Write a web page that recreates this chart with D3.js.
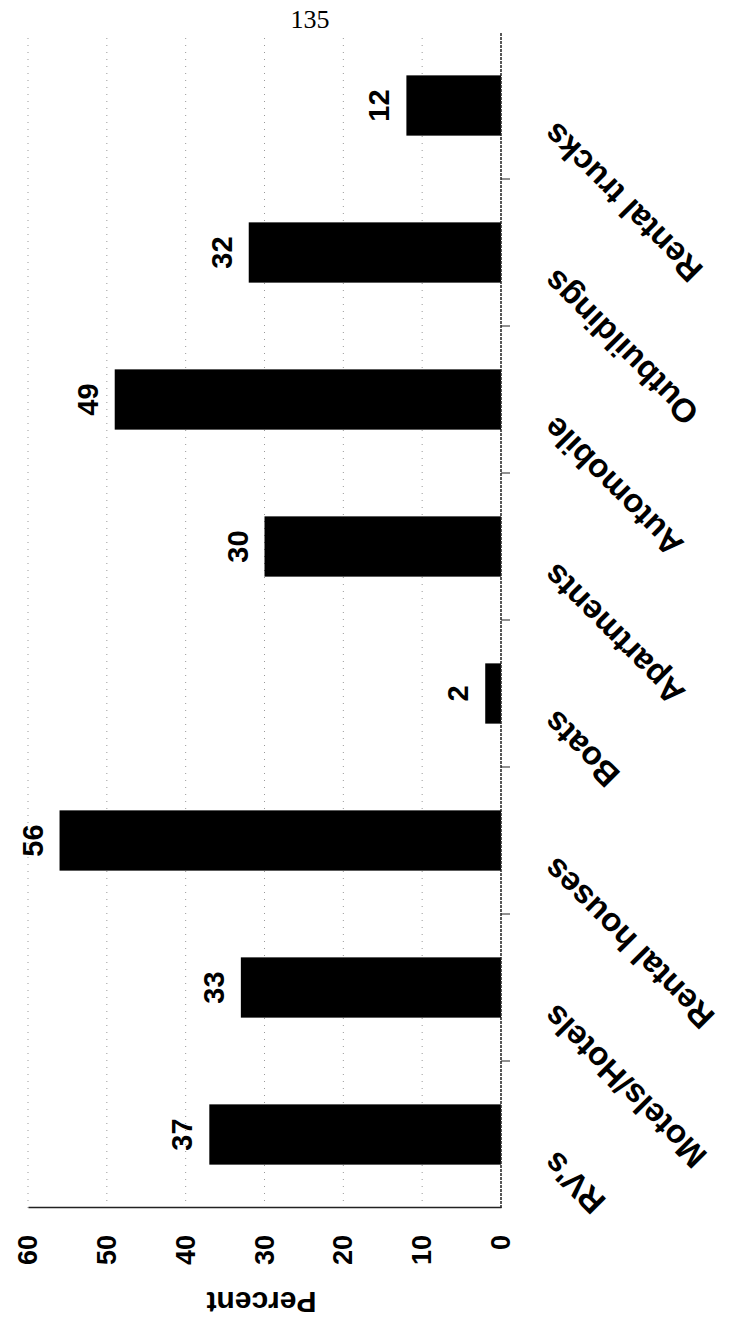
<!DOCTYPE html>
<html>
<head>
<meta charset="utf-8">
<script src="https://cdn.jsdelivr.net/npm/d3@7"></script>
<style>
  body { margin: 0; background: #fff; }
  svg text { font-family: "Liberation Sans", Arial, sans-serif; }
</style>
</head>
<body>
<svg id="chart"></svg>
<script>
// data
const categories = ["RV's", "Motels/Hotels", "Rental houses", "Boats", "Apartments", "Automobile", "Outbuildings", "Rental trucks"];
const percents = [37, 33, 56, 2, 30, 49, 32, 12];
const valueTicks = [0, 10, 20, 30, 40, 50, 60];
const gridTicks = [10, 20, 30, 40, 50, 60];

const pageW = 733, pageH = 1325;

let svg = d3.select("#chart")
    .attr("width", pageW)
    .attr("height", pageH);

// page number
svg.append("text")
    .attr("x", 310)
    .attr("y", 28)
    .attr("text-anchor", "middle")
    .style("font-family", "'Liberation Serif', 'DejaVu Serif', serif")
    .style("font-size", "26px")
    .text("135");

// chart is drawn upright then turned a quarter turn, like the landscape page
const width = 1176,
      height = 473;

const g = svg.append("g")
    .attr("transform", "translate(28,1208) rotate(-90)");

var x = d3.scaleBand()
    .domain(categories)
    .range([0, width])
    .paddingInner(0.59)
    .paddingOuter(0.295);

var y = d3.scaleLinear()
    .domain([0, 60])
    .range([height, 0]);

// faint dotted grid
g.selectAll(".grid")
    .data(gridTicks)
    .enter()
    .append("line")
    .attr("class", "grid")
    .attr("x1", 0)
    .attr("x2", width)
    .attr("y1", d => y(d))
    .attr("y2", d => y(d))
    .attr("stroke", "#999")
    .attr("stroke-width", 1)
    .attr("stroke-dasharray", "1,6");

// bars
g.selectAll(".bar")
    .data(percents)
    .enter()
    .append("rect")
    .attr("class", "bar")
    .attr("x", (d, i) => x(categories[i]))
    .attr("width", x.bandwidth())
    .attr("y", d => y(d))
    .attr("height", d => height - y(d))
    .attr("fill", "#000");

// value labels
g.selectAll(".val")
    .data(percents)
    .enter()
    .append("text")
    .attr("class", "val")
    .attr("x", (d, i) => x(categories[i]) + x.bandwidth() / 2)
    .attr("y", d => y(d) - 17)
    .attr("text-anchor", "middle")
    .style("font-size", "29px")
    .style("font-weight", "bold")
    .text(d => d);

// value axis
const yAxis = g.append("g")
    .call(d3.axisLeft(y).tickValues(valueTicks).tickSize(0).tickPadding(27));
yAxis.select(".domain").attr("stroke", "#222").attr("stroke-width", 1.5);
yAxis.selectAll("text")
    .style("font-size", "27px")
    .style("font-weight", "bold")
    .attr("fill", "#000");

// category axis line with ticks between bars
g.append("line")
    .attr("x1", 0)
    .attr("x2", width)
    .attr("y1", height)
    .attr("y2", height)
    .attr("stroke", "#222")
    .attr("stroke-width", 1.5)
    .attr("stroke-dasharray", "3,1");

g.selectAll(".ctick")
    .data(categories.slice(1))
    .enter()
    .append("line")
    .attr("class", "ctick")
    .attr("x1", d => x(d) - (x.step() - x.bandwidth()) / 2)
    .attr("x2", d => x(d) - (x.step() - x.bandwidth()) / 2)
    .attr("y1", height)
    .attr("y2", height + 9)
    .attr("stroke", "#222")
    .attr("stroke-width", 1);

// slanted category labels
g.selectAll(".cat")
    .data(categories)
    .enter()
    .append("text")
    .attr("class", "cat")
    .attr("transform", d => `translate(${x(d) + x.bandwidth() / 2 - 15}, ${height + 56}) rotate(-45)`)
    .attr("text-anchor", "end")
    .style("font-size", "33px")
    .style("font-weight", "bold")
    .text(d => d);

// axis title
g.append("text")
    .attr("transform", "translate(-94," + (height / 2 - 3) + ") rotate(-90)")
    .attr("text-anchor", "middle")
    .attr("dominant-baseline", "central")
    .style("font-size", "30px")
    .style("font-weight", "bold")
    .text("Percent");
</script>
</body>
</html>
